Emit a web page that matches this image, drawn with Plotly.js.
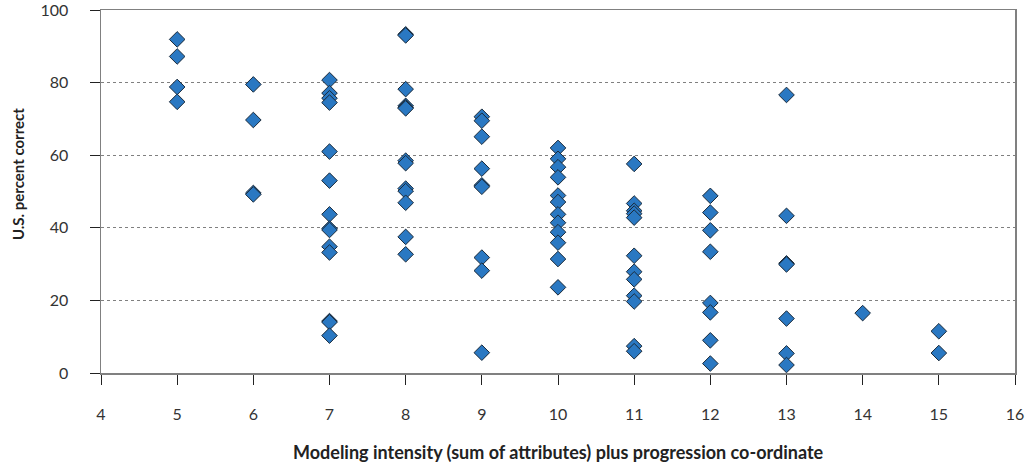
<!DOCTYPE html>
<html>
<head>
<meta charset="utf-8">
<script src="https://cdn.plot.ly/plotly-3.0.1.min.js"></script>
<style>html,body{margin:0;padding:0;background:#fff;}#chart{width:1031px;height:466px;}</style>
</head>
<body>
<div id="chart"></div>
<script>
// Modeling intensity (x) and U.S. percent correct (y), per point
const intensity = [
  5,5,5,5,
  6,6,6,6,
  7,7,7,7,7,7,7,7,7,7,7,7,7,7,
  8,8,8,8,8,8,8,8,8,8,8,8,8,
  9,9,9,9,9,9,9,9,9,
  10,10,10,10,10,10,10,10,10,10,10,10,
  11,11,11,11,11,11,11,11,11,11,11,11,
  12,12,12,12,12,12,12,12,
  13,13,13,13,13,13,13,
  14,
  15,15
];
const percentCorrect = [
  91.9,87.2,78.8,74.7,
  79.5,69.7,49.6,49.2,
  80.7,77.1,75.7,74.5,61.0,53.0,43.7,39.8,39.4,34.8,33.2,14.3,14.0,10.3,
  93.3,93.0,78.2,73.6,73.2,72.9,58.5,57.8,50.8,50.1,46.9,37.5,32.7,
  70.6,69.5,65.1,56.3,51.7,51.3,31.8,28.2,5.6,
  62.0,59.0,56.7,53.9,48.9,47.1,43.7,41.4,38.8,35.9,31.4,23.6,
  57.6,46.7,44.7,43.9,42.8,32.3,27.9,25.8,21.3,19.7,7.4,6.0,
  48.8,44.2,39.3,33.4,19.3,16.7,9.0,2.6,
  76.6,43.3,30.2,29.9,15.0,5.4,2.2,
  16.5,
  11.5,5.5
];
const xTicks = [4,5,6,7,8,9,10,11,12,13,14,15,16];
const yTicks = [0,20,40,60,80,100];
const xTitle = 'Modeling intensity (sum of attributes) plus progression co-ordinate';
const yTitle = 'U.S. percent correct';

const tickFont = {family: 'Lato, sans-serif', size: 16, color: '#333'};
const yTitleFont = {family: 'Lato, sans-serif', size: 15, color: '#222', weight: 'bold'};
const xTitleFont = {family: 'Lato, sans-serif', size: 18, color: '#222', weight: 'bold'};

const trace = {
  x: intensity, y: percentCorrect, type: 'scatter', mode: 'markers',
  marker: {symbol: 'diamond', size: 12, color: '#2a78c2', line: {color: '#1a2a3a', width: 1}},
  hoverinfo: 'x+y'
};

const layout = {
  width: 1031, height: 466,
  margin: {l: 101, r: 16, t: 10, b: 93},
  paper_bgcolor: '#fff', plot_bgcolor: '#fff',
  showlegend: false,
  xaxis: {
    range: [4, 16], tickvals: xTicks, ticktext: xTicks.map(String),
    showgrid: false, zeroline: false,
    showline: true, linecolor: '#808080', linewidth: 1.5, mirror: true,
    ticks: 'outside', ticklen: 10, tickcolor: '#222', tickwidth: 1,
    ticklabelstandoff: 16,
    tickfont: tickFont
  },
  yaxis: {
    range: [0, 100], tickvals: yTicks,
    showgrid: true, gridcolor: '#808080', griddash: 'dot', gridwidth: 1,
    zeroline: false,
    showline: true, linecolor: '#808080', linewidth: 1.5, mirror: true,
    ticks: 'outside', ticklen: 10, tickcolor: '#222', tickwidth: 1,
    ticklabelstandoff: 18, ticklabeloverflow: 'allow',
    tickfont: tickFont
  },
  annotations: [{
    text: yTitle, font: yTitleFont, textangle: -90, showarrow: false,
    xref: 'paper', yref: 'paper', x: -0.0915, y: 0.549,
    xanchor: 'center', yanchor: 'middle'
  }, {
    text: xTitle, font: xTitleFont, showarrow: false,
    xref: 'paper', yref: 'paper', x: 0.5, y: -0.2166,
    xanchor: 'center', yanchor: 'middle'
  }]
};

Plotly.newPlot('chart', [trace], layout, {displayModeBar: false, staticPlot: true});
</script>
</body>
</html>
